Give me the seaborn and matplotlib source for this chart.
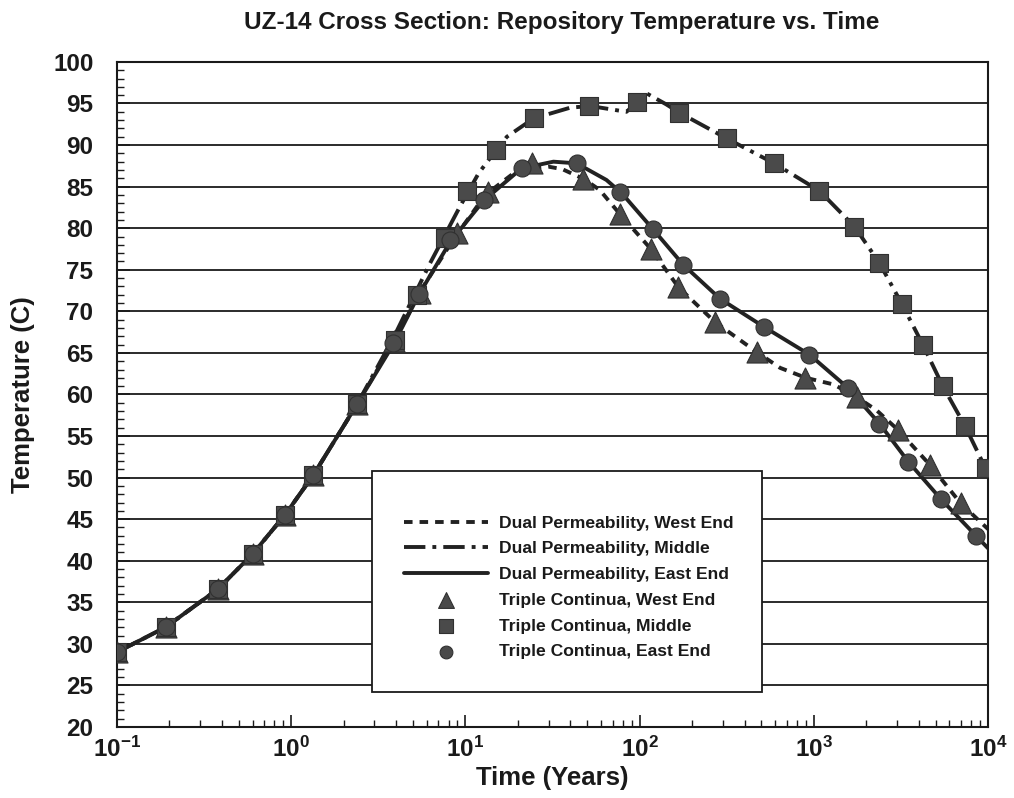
import matplotlib
matplotlib.use("Agg")
import numpy as np
import pandas as pd
import seaborn as sns
import matplotlib.pyplot as plt
from matplotlib.patches import Rectangle
from matplotlib.ticker import FixedLocator, NullFormatter

# Dual permeability (continuous curves) - time [years], temperature [C]
dp_west_t = [0.1, 0.19, 0.38, 0.6, 0.92, 1.34, 2.4, 3.9, 5.5, 8.5, 13, 20, 30, 36, 48, 59, 77,
             116, 167, 271, 470, 640, 900, 1300, 1760, 2290, 3055, 4650, 6970, 10000]
dp_west_T = [29.0, 32.0, 36.6, 40.8, 45.5, 50.3, 58.9, 66.4, 72.4, 78.6, 84.0, 87.0, 87.4, 87.1, 85.9, 84.6, 81.7,
             77.5, 72.9, 68.7, 65.1, 63.2, 62.0, 61.2, 59.7, 58.1, 55.7, 51.5, 46.9, 43.8]

dp_mid_t = [0.1, 0.19, 0.38, 0.6, 0.92, 1.34, 2.4, 3.9, 6.2, 9.3, 11.9, 15, 17.3, 24.6, 40, 52, 84,
            110, 142, 169, 316, 592, 1076, 1710, 2380, 3200, 4220, 5500, 7380, 10000]
dp_mid_T = [29.0, 32.0, 36.6, 40.8, 45.5, 50.3, 58.9, 67.0, 75.6, 82.6, 86.6, 89.4, 91.0, 93.2, 94.5, 94.7, 94.0,
            96.2, 94.9, 93.9, 90.8, 87.8, 84.5, 80.2, 75.8, 70.9, 66.0, 61.0, 56.2, 50.5]

dp_east_t = [0.1, 0.19, 0.38, 0.6, 0.92, 1.34, 2.4, 3.9, 5.4, 8.2, 12.7, 21, 32, 43.5, 64.5, 79,
             119, 178, 290, 520, 943, 1567, 2380, 3490, 5370, 8530, 10000]
dp_east_T = [29.0, 32.0, 36.6, 40.8, 45.5, 50.3, 58.9, 66.2, 72.0, 78.4, 83.3, 87.2, 88.0, 87.8, 85.8, 84.2,
             79.9, 75.6, 71.5, 68.1, 64.8, 60.8, 56.5, 51.9, 47.4, 43.0, 41.5]

# Triple continua (markers)
tc_west_t = [0.1, 0.19, 0.38, 0.6, 0.92, 1.34, 2.4, 3.9, 5.5, 8.9, 13.5, 24, 47.5, 77, 116, 167,
             271, 470, 891, 1760, 3055, 4650, 6970]
tc_west_T = [29.0, 32.0, 36.6, 40.8, 45.5, 50.3, 58.9, 66.4, 72.2, 79.4, 84.4, 87.8, 85.9, 81.7, 77.5, 72.9,
             68.7, 65.1, 62.0, 59.7, 55.7, 51.5, 46.9]

tc_mid_t = [0.1, 0.19, 0.38, 0.6, 0.92, 1.34, 2.4, 3.95, 5.3, 7.6, 10.2, 15.0, 24.6, 51.4, 96.2, 169,
            316, 592, 1076, 1710, 2380, 3200, 4220, 5500, 7380, 9750]
tc_mid_T = [29.0, 32.0, 36.6, 40.8, 45.5, 50.3, 58.9, 66.6, 72.0, 78.8, 84.5, 89.4, 93.2, 94.7, 95.2, 93.9,
            90.8, 87.8, 84.5, 80.2, 75.8, 70.9, 66.0, 61.0, 56.2, 51.1]

tc_east_t = [0.1, 0.19, 0.38, 0.6, 0.92, 1.34, 2.4, 3.86, 5.4, 8.2, 12.7, 21, 43.5, 77, 119, 178,
             290, 520, 943, 1567, 2380, 3490, 5370, 8530]
tc_east_T = [29.0, 32.0, 36.6, 40.8, 45.5, 50.3, 58.9, 66.2, 72.1, 78.6, 83.4, 87.2, 87.8, 84.3, 79.9, 75.6,
             71.5, 68.1, 64.8, 60.8, 56.5, 51.9, 47.4, 43.0]

x_ticks = [0.1, 1, 10, 100, 1000, 10000]
x_tick_labels = [r"$\mathbf{10^{-1}}$", r"$\mathbf{10^{0}}$", r"$\mathbf{10^{1}}$",
                 r"$\mathbf{10^{2}}$", r"$\mathbf{10^{3}}$", r"$\mathbf{10^{4}}$"]
y_ticks = list(range(20, 101, 5))

sns.set_theme(style="white")
plt.rcParams["font.family"] = ["Liberation Sans", "DejaVu Sans"]
plt.rcParams["mathtext.fontset"] = "custom"
plt.rcParams["mathtext.rm"] = "Liberation Sans"
plt.rcParams["mathtext.bf"] = "Liberation Sans:bold"

fig = plt.figure(figsize=(10.14, 7.98), dpi=100)
ax = fig.add_axes([0.1154, 0.089, 0.859, 0.8334])

line_col = "#222222"
mark_col = "#4a4a4a"

# 線 (Dual Permeability)
sns.lineplot(x=dp_west_t, y=dp_west_T, ax=ax, color=line_col, linewidth=2.8,
             linestyle=(0, (2.2, 1.8)), label="Dual Permeability, West End")
sns.lineplot(x=dp_mid_t, y=dp_mid_T, ax=ax, color=line_col, linewidth=2.8,
             linestyle=(0, (5.5, 1.8, 1.0, 1.8)), label="Dual Permeability, Middle")
sns.lineplot(x=dp_east_t, y=dp_east_T, ax=ax, color=line_col, linewidth=2.8,
             linestyle="-", label="Dual Permeability, East End")

# マーカー (Triple Continua)
sns.scatterplot(x=tc_west_t, y=tc_west_T, ax=ax, marker="^", s=230, color=mark_col,
                edgecolor="#303030", linewidth=0.8, zorder=3, label="Triple Continua, West End")
sns.scatterplot(x=tc_mid_t, y=tc_mid_T, ax=ax, marker="s", s=160, color=mark_col,
                edgecolor="#303030", linewidth=0.8, zorder=3, label="Triple Continua, Middle")
sns.scatterplot(x=tc_east_t, y=tc_east_T, ax=ax, marker="o", s=150, color=mark_col,
                edgecolor="#303030", linewidth=0.8, zorder=3, label="Triple Continua, East End")

ax.set_xscale("log")
ax.set_xlim(0.1, 10000)
ax.set_ylim(20, 100)
ax.xaxis.set_major_locator(FixedLocator(x_ticks))
ax.set_xticklabels(x_tick_labels)
minor_x = [m * 10.0 ** e for e in range(-1, 4) for m in range(2, 10)]
ax.xaxis.set_minor_locator(FixedLocator(minor_x))
ax.xaxis.set_minor_formatter(NullFormatter())
ax.set_yticks(y_ticks)
ax.set_yticklabels([str(v) for v in y_ticks])
ax.yaxis.set_minor_locator(FixedLocator(list(range(20, 101))))

ax.yaxis.grid(True, color="#1a1a1a", linewidth=1.3)
ax.xaxis.grid(False)
ax.set_axisbelow(True)
for sp in ax.spines.values():
    sp.set_color("#1a1a1a")
    sp.set_linewidth(1.5)

ax.tick_params(axis="both", which="both", direction="in", top=False, right=False,
               bottom=True, left=True, colors="#1a1a1a")
ax.tick_params(axis="both", which="major", length=9, width=1.2, labelsize=17.5)
ax.tick_params(axis="y", which="major", pad=17)
ax.tick_params(axis="x", which="major", pad=7)
ax.tick_params(axis="both", which="minor", length=5, width=1.0)
for lab in ax.get_yticklabels():
    lab.set_fontweight("bold")

ax.set_xlabel("Time (Years)", fontsize=18.5, fontweight="bold", color="#1a1a1a", va="top")
ax.xaxis.set_label_coords(0.5, -0.058)
ax.set_ylabel("Temperature (C)", fontsize=18.5, fontweight="bold", color="#1a1a1a")
ax.yaxis.set_label_coords(-0.094, 0.5)
fig.text(0.554, 0.972, "UZ-14 Cross Section: Repository Temperature vs. Time",
         ha="center", va="center", fontsize=17.5, fontweight="bold", color="#1a1a1a")

# 凡例の枠
box = Rectangle((0.293, 0.052), 0.4477, 0.333, transform=ax.transAxes, facecolor="white",
                edgecolor="#1a1a1a", linewidth=1.3, zorder=4)
ax.add_patch(box)
leg = ax.legend(loc="upper left", bbox_to_anchor=(0.329, 0.318), frameon=False,
                fontsize=12.6, handlelength=4.8, handletextpad=0.65, labelspacing=0.6,
                borderpad=0, borderaxespad=0, markerscale=0.75)
leg.set_zorder(5)
for txt in leg.get_texts():
    txt.set_fontweight("bold")
    txt.set_color("#1a1a1a")

fig.savefig("out.png", dpi=100)
plt.close(fig)
